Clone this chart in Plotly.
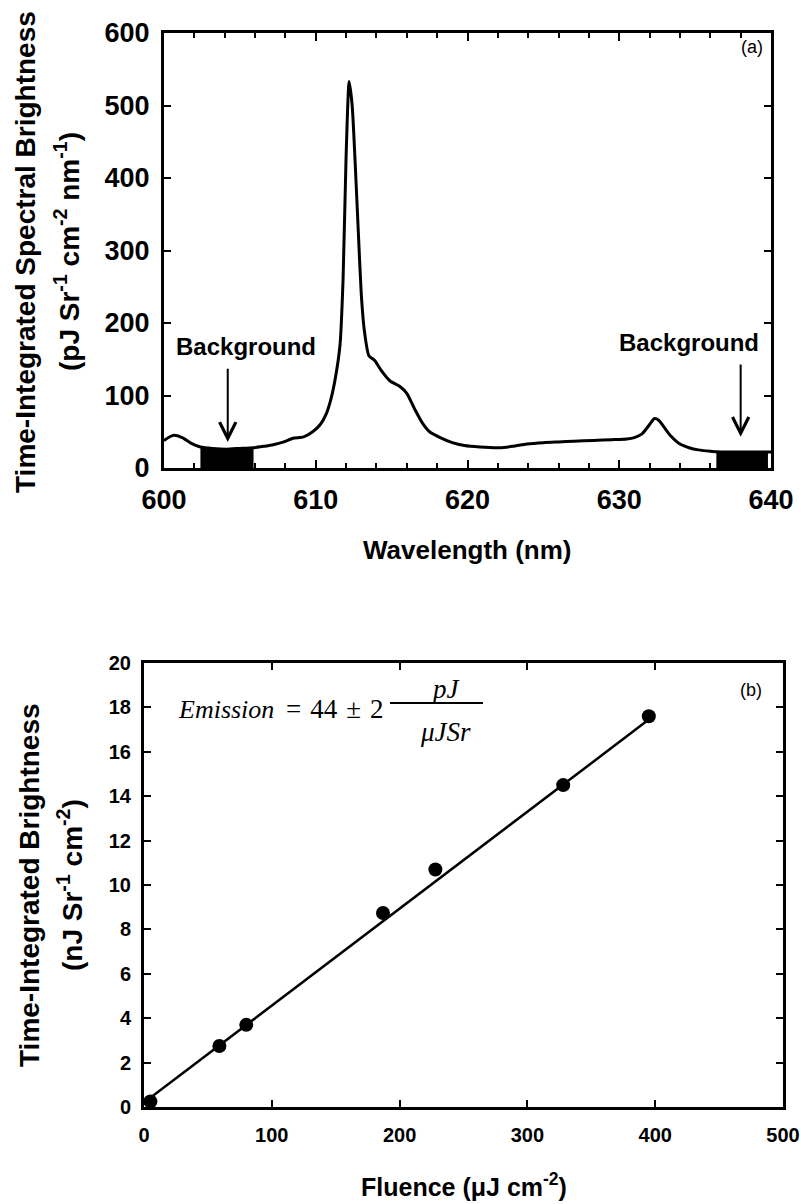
import plotly.graph_objects as go

# ---------------- data ----------------
# panel (a): time-integrated spectral brightness
wavelength_nm = [600.0, 600.6, 601.2, 601.8, 602.4, 603.2, 604.1, 605.0, 605.9, 606.6,
                 607.2, 607.9, 608.5, 609.2, 609.8, 610.3, 610.7, 611.0, 611.3, 611.6,
                 611.8, 612.0, 612.2, 612.4, 612.6, 612.8, 613.0, 613.2, 613.5, 613.9,
                 614.3, 614.9, 615.5, 616.0, 616.5, 617.0, 617.5, 618.2, 619.0, 619.8,
                 620.8, 622.1, 623.0, 623.9, 625.0, 626.0, 627.0, 628.3, 629.5, 630.5,
                 631.0, 631.5, 632.0, 632.3, 632.6, 633.0, 633.4, 634.0, 634.6, 635.2,
                 636.0, 636.4, 637.0, 638.0, 639.0, 639.8, 640.0]
brightness_pj = [38, 45, 42, 34, 29, 27, 26, 27, 28, 30,
                 32, 36, 41, 43, 50, 60, 75, 95, 125, 170,
                 260, 430, 533, 500, 420, 328, 240, 190, 155, 148,
                 135, 120, 113, 103, 82, 63, 50, 42, 35, 31,
                 29, 28, 30, 33, 35, 36, 37, 38, 39, 40,
                 42, 47, 60, 68, 66, 55, 44, 33, 28, 25,
                 23, 22.5, 22, 22, 22, 22, 22]
background_ranges = [(602.4, 605.9), (636.4, 639.8)]
background_label = "Background"

# panel (b): integrated brightness vs fluence
fluence_uj = [5, 59, 80, 187, 228, 328, 395]
integrated_nj = [0.25, 2.75, 3.7, 8.74, 10.7, 14.5, 17.6]
fit_fluence = [0, 395]
fit_brightness = [0.2, 17.45]

# ---------------- layout helpers ----------------
W, H = 801, 1204
def px(x):
    return x / W
def py(y):
    return 1 - y / H

SANS = "Liberation Sans"
SERIF = "Liberation Serif"

fig = go.Figure()

# background fills (under the curve)
for lo, hi in background_ranges:
    xs = [w for w in wavelength_nm if lo <= w <= hi]
    ys = [b for w, b in zip(wavelength_nm, brightness_pj) if lo <= w <= hi]
    fig.add_trace(go.Scatter(x=xs, y=ys, mode="lines", fill="tozeroy",
                             fillcolor="black", line=dict(color="black", width=0),
                             showlegend=False, xaxis="x", yaxis="y", hoverinfo="skip"))

fig.add_trace(go.Scatter(x=wavelength_nm, y=brightness_pj, mode="lines",
                         line=dict(color="black", width=3, shape="spline", smoothing=0.6),
                         showlegend=False, xaxis="x", yaxis="y"))

fig.add_trace(go.Scatter(x=fit_fluence, y=fit_brightness, mode="lines",
                         line=dict(color="black", width=2.5),
                         showlegend=False, xaxis="x2", yaxis="y2"))
fig.add_trace(go.Scatter(x=fluence_uj, y=integrated_nj, mode="markers",
                         marker=dict(color="black", size=14),
                         showlegend=False, xaxis="x2", yaxis="y2"))

axis_common = dict(showline=True, linecolor="black", linewidth=3, mirror="ticks",
                   ticks="inside", tickcolor="black", tickwidth=2,
                   showgrid=False, zeroline=False, fixedrange=True, automargin=False)

fig.update_layout(
    width=W, height=H, margin=dict(l=0, r=0, t=0, b=0, autoexpand=False),
    paper_bgcolor="white", plot_bgcolor="white",
    showlegend=False,
    xaxis=dict(domain=[px(164), px(771)], range=[600, 640], dtick=10, ticklen=8,
               minor=dict(dtick=2, ticks="inside", ticklen=5, tickcolor="black", tickwidth=2),
               tickfont=dict(family=SANS, size=27, color="black", weight="bold"),
               ticklabelstandoff=6, anchor="y", **axis_common),
    yaxis=dict(domain=[py(468), py(33)], range=[0, 600], dtick=100, ticklen=7,
               tickfont=dict(family=SANS, size=27, color="black", weight="bold"),
               ticklabelstandoff=6, anchor="x", **axis_common),
    xaxis2=dict(domain=[px(144), px(783)], range=[0, 500], dtick=100, ticklen=7,
                tickfont=dict(family=SANS, size=20, color="black", weight="bold"),
                ticklabelstandoff=8, anchor="y2", **axis_common),
    yaxis2=dict(domain=[py(1107), py(663)], range=[0, 20], dtick=2, ticklen=7,
                tickfont=dict(family=SANS, size=20, color="black", weight="bold"),
                ticklabelstandoff=6, anchor="x2", **axis_common),
)

ann = []
def label(text, x, y, size, family=SANS, bold=True, angle=0, xanchor="center", yanchor="middle"):
    ann.append(dict(text=text, x=px(x), y=py(y), xref="paper", yref="paper",
                    showarrow=False, textangle=angle, xanchor=xanchor, yanchor=yanchor,
                    font=dict(family=family, size=size, color="black",
                              weight="bold" if bold else "normal")))

# axis titles
label("Wavelength (nm)", 467, 550, 26)
label("Time-Integrated Spectral Brightness", 25, 252, 28, angle=-90)
label("(pJ Sr<sup>-1</sup> cm<sup>-2</sup> nm<sup>-1</sup>)", 67, 252, 28, angle=-90)
label("Fluence (\u03bcJ cm<sup>-2</sup>)", 464, 1185, 25)
label("Time-Integrated Brightness", 29, 885, 28, angle=-90)
label("(nJ Sr<sup>-1</sup> cm<sup>-2</sup>)", 70, 885, 28, angle=-90)

# panel letters
label("(a)", 752, 47, 18, bold=False)
label("(b)", 751, 690, 18, bold=False)

# Background labels
label(background_label, 246, 347, 24)
label(background_label, 689, 342, 24)

# equation
sp = "\u2004"
ann.append(dict(text="<i>Emission</i>", x=px(176), y=py(709), xref="paper", yref="paper",
                showarrow=False, xanchor="left", yanchor="middle",
                font=dict(family=SERIF, size=26, color="black")))
ann.append(dict(text=f"={sp}44{sp}\u00b1{sp}2", x=px(284), y=py(709), xref="paper", yref="paper",
                showarrow=False, xanchor="left", yanchor="middle",
                font=dict(family=SERIF, size=27, color="black")))
ann.append(dict(text="<i>pJ</i>", x=px(446), y=py(689), xref="paper", yref="paper",
                showarrow=False, xanchor="center", yanchor="middle",
                font=dict(family=SERIF, size=27, color="black")))
ann.append(dict(text="<i>\u03bcJSr</i>", x=px(445), y=py(732), xref="paper", yref="paper",
                showarrow=False, xanchor="center", yanchor="middle",
                font=dict(family=SERIF, size=27, color="black")))

# arrows pointing at background regions
for xtip, ytip, ytail in [(604.2, 36, 139), (638.0, 43, 145)]:
    ann.append(dict(x=xtip, y=ytip, ax=xtip, ay=ytail, xref="x", yref="y",
                    axref="x", ayref="y", text="", showarrow=True,
                    arrowhead=5, arrowsize=1.6, arrowwidth=2, arrowcolor="black"))

fig.update_layout(annotations=ann)

fig.add_shape(type="line", xref="paper", yref="paper",
              x0=px(390), x1=px(483), y0=py(703), y1=py(703),
              line=dict(color="black", width=2))

fig.write_html("out.html")
